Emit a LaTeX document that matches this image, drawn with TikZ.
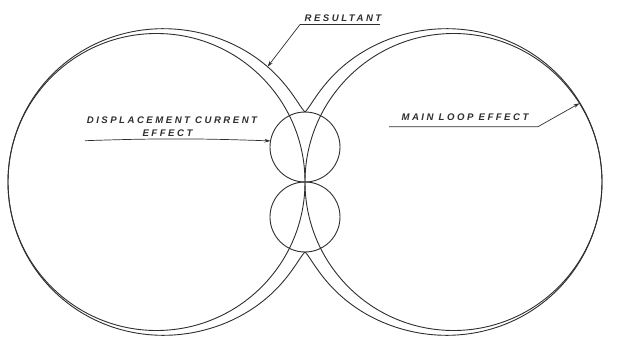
\documentclass[tikz,border=0pt]{standalone}
\usepackage{fontspec}
\usepackage{tikz}
\usetikzlibrary{arrows.meta,positioning}
\newfontfamily\letterfont[LetterSpace=26]{Liberation Sans}
\definecolor{ink}{HTML}{2E2E2E}
\tikzset{
  declare function={res(\t)=10*sqrt(882.09*cos(\t)^2+49*sin(\t)^2+98*abs(cos(\t))*(sin(\t)^2)^5);},
  loopline/.style={draw=ink, line width=0.9pt},
  mainloop/.style={loopline, circle, minimum size=297pt, inner sep=0pt, outer sep=0pt},
  disploop/.style={loopline, circle, minimum size=70pt, inner sep=0pt, outer sep=0pt},
  leader/.style={-{Stealth[length=6pt,width=3.6pt]}, draw=ink, line width=0.7pt},
  lettering/.style={font=\letterfont\bfseries\itshape\fontsize{9.6}{11}\selectfont, text=ink, inner sep=0pt}
}
\begin{document}
\begin{tikzpicture}[x=1pt,y=1pt]
  \useasboundingbox (-305,-156) rectangle (322,182);
  % main loop effect
  \foreach \nm/\cx in {mainL/-148.5,mainR/148.5}
    \node[mainloop] (\nm) at (\cx,0) {};
  % displacement current effect
  \foreach \nm/\cy in {dispU/35,dispD/-35}
    \node[disploop] (\nm) at (0,\cy) {};
  % resultant
  \draw[loopline] plot[domain=0:360,samples=721,smooth] ({res(\x)*cos(\x)},{res(\x)*sin(\x)});

  % labels
  \node[lettering] (restext) at (38,164) {RESULTANT};
  \coordinate (resR) at (75,157.5);
  \coordinate (resL) at (-5,157.5);
  \coordinate (restip) at ({res(108)*cos(108)},{res(108)*sin(108)});
  \draw[leader] (resR) -- (resL) -- (restip);

  \node[lettering] (mltext) at (160,65) {MAIN LOOP EFFECT};
  \coordinate (mlL) at (84,55.3);
  \coordinate (mlR) at (233,55.3);
  \draw[leader] (mlL) -- (mlR) -- (mainR.32);

  \node[lettering] (dctext) at (-133,62) {DISPLACEMENT CURRENT};
  \node[lettering, below=5.5pt of dctext, xshift=-4.5pt] (efftext) {EFFECT};
  \coordinate (dcstart) at (-220,41.3);
  \draw[leader] (dcstart) to[bend left=2] (dispU.170);
\end{tikzpicture}
\end{document}
